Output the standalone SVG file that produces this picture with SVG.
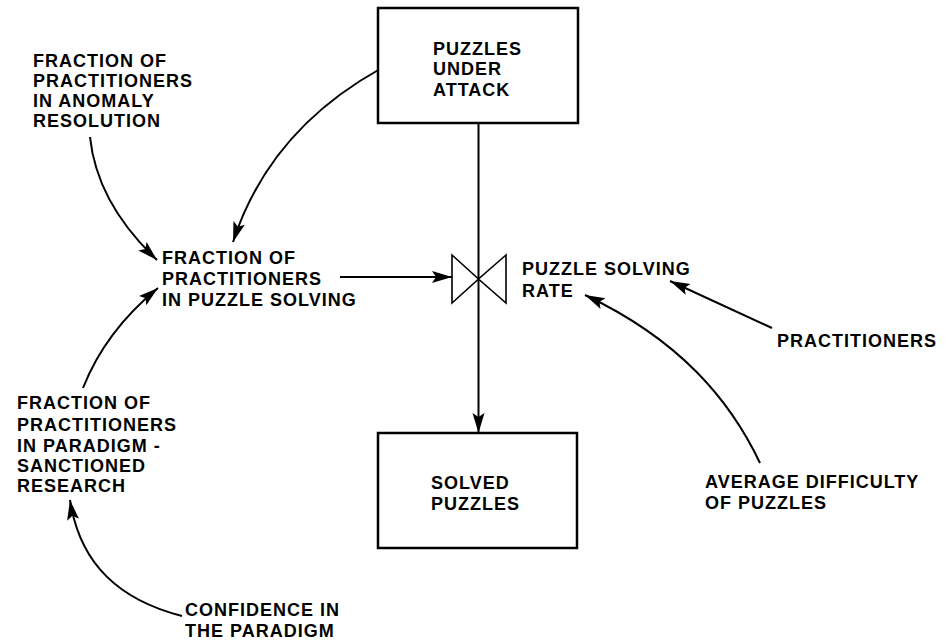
<svg xmlns="http://www.w3.org/2000/svg" width="949" height="640" viewBox="0 0 949 640">
<style>
text{font-family:"Liberation Sans",Arial,sans-serif;font-weight:bold;font-size:18px;letter-spacing:1px;fill:#000}
.box{fill:#fff;stroke:#000;stroke-width:2.5}
.ln{fill:none;stroke:#000;stroke-width:2}
.valve{fill:#fff;stroke:#000;stroke-width:1.6;stroke-linejoin:miter}
</style>
<defs>
<marker id="ah" markerUnits="userSpaceOnUse" markerWidth="22" markerHeight="14" refX="20" refY="6" orient="auto">
<path d="M0,0 L20,6 L0,12 L4,6 z" fill="#000"/>
</marker>
</defs>
<rect width="949" height="640" fill="#fff"/>
<g id="connectors">
<path class="ln" d="M478.5 123 L478.5 433" marker-end="url(#ah)"/>
<path class="ln" d="M340 277 L452 277" marker-end="url(#ah)"/>
<path class="ln" d="M380 69 C310 108 258 165 233 242" marker-end="url(#ah)"/>
<path class="ln" d="M90 137 C95 185 120 225 157 260" marker-end="url(#ah)"/>
<path class="ln" d="M83 388 C98 350 125 315 158 288" marker-end="url(#ah)"/>
<path class="ln" d="M182 616 C120 600 80 565 70 500" marker-end="url(#ah)"/>
<path class="ln" d="M772 328 L670 281" marker-end="url(#ah)"/>
<path class="ln" d="M760 463 C730 400 680 340 585 295" marker-end="url(#ah)"/>
</g>
<g id="puzzles-under-attack">
<rect class="box" x="378" y="8" width="200" height="115"/>
<text x="433" y="55">PUZZLES</text>
<text x="433" y="75">UNDER</text>
<text x="433" y="96">ATTACK</text>
</g>
<g id="solved-puzzles">
<rect class="box" x="378" y="433" width="199" height="115"/>
<text x="431" y="489">SOLVED</text>
<text x="431" y="510">PUZZLES</text>
</g>
<g id="puzzle-solving-rate">
<path class="valve" d="M452 255 L478.5 279 L452 303 Z M506 255 L478.5 279 L506 303 Z"/>
<text x="522" y="275">PUZZLE SOLVING</text>
<text x="522" y="297">RATE</text>
</g>
<g id="fraction-anomaly">
<text x="33" y="67">FRACTION OF</text>
<text x="33" y="87">PRACTITIONERS</text>
<text x="33" y="107">IN ANOMALY</text>
<text x="33" y="127">RESOLUTION</text>
</g>
<g id="fraction-puzzle-solving">
<text x="162" y="264">FRACTION OF</text>
<text x="162" y="285">PRACTITIONERS</text>
<text x="162" y="306">IN PUZZLE SOLVING</text>
</g>
<g id="fraction-paradigm">
<text x="17" y="409">FRACTION OF</text>
<text x="17" y="431">PRACTITIONERS</text>
<text x="17" y="452">IN PARADIGM -</text>
<text x="17" y="472">SANCTIONED</text>
<text x="17" y="492">RESEARCH</text>
</g>
<g id="confidence">
<text x="185" y="616">CONFIDENCE IN</text>
<text x="185" y="637">THE PARADIGM</text>
</g>
<g id="practitioners">
<text x="777" y="347">PRACTITIONERS</text>
</g>
<g id="average-difficulty">
<text x="705" y="488">AVERAGE DIFFICULTY</text>
<text x="705" y="509">OF PUZZLES</text>
</g>
</svg>
